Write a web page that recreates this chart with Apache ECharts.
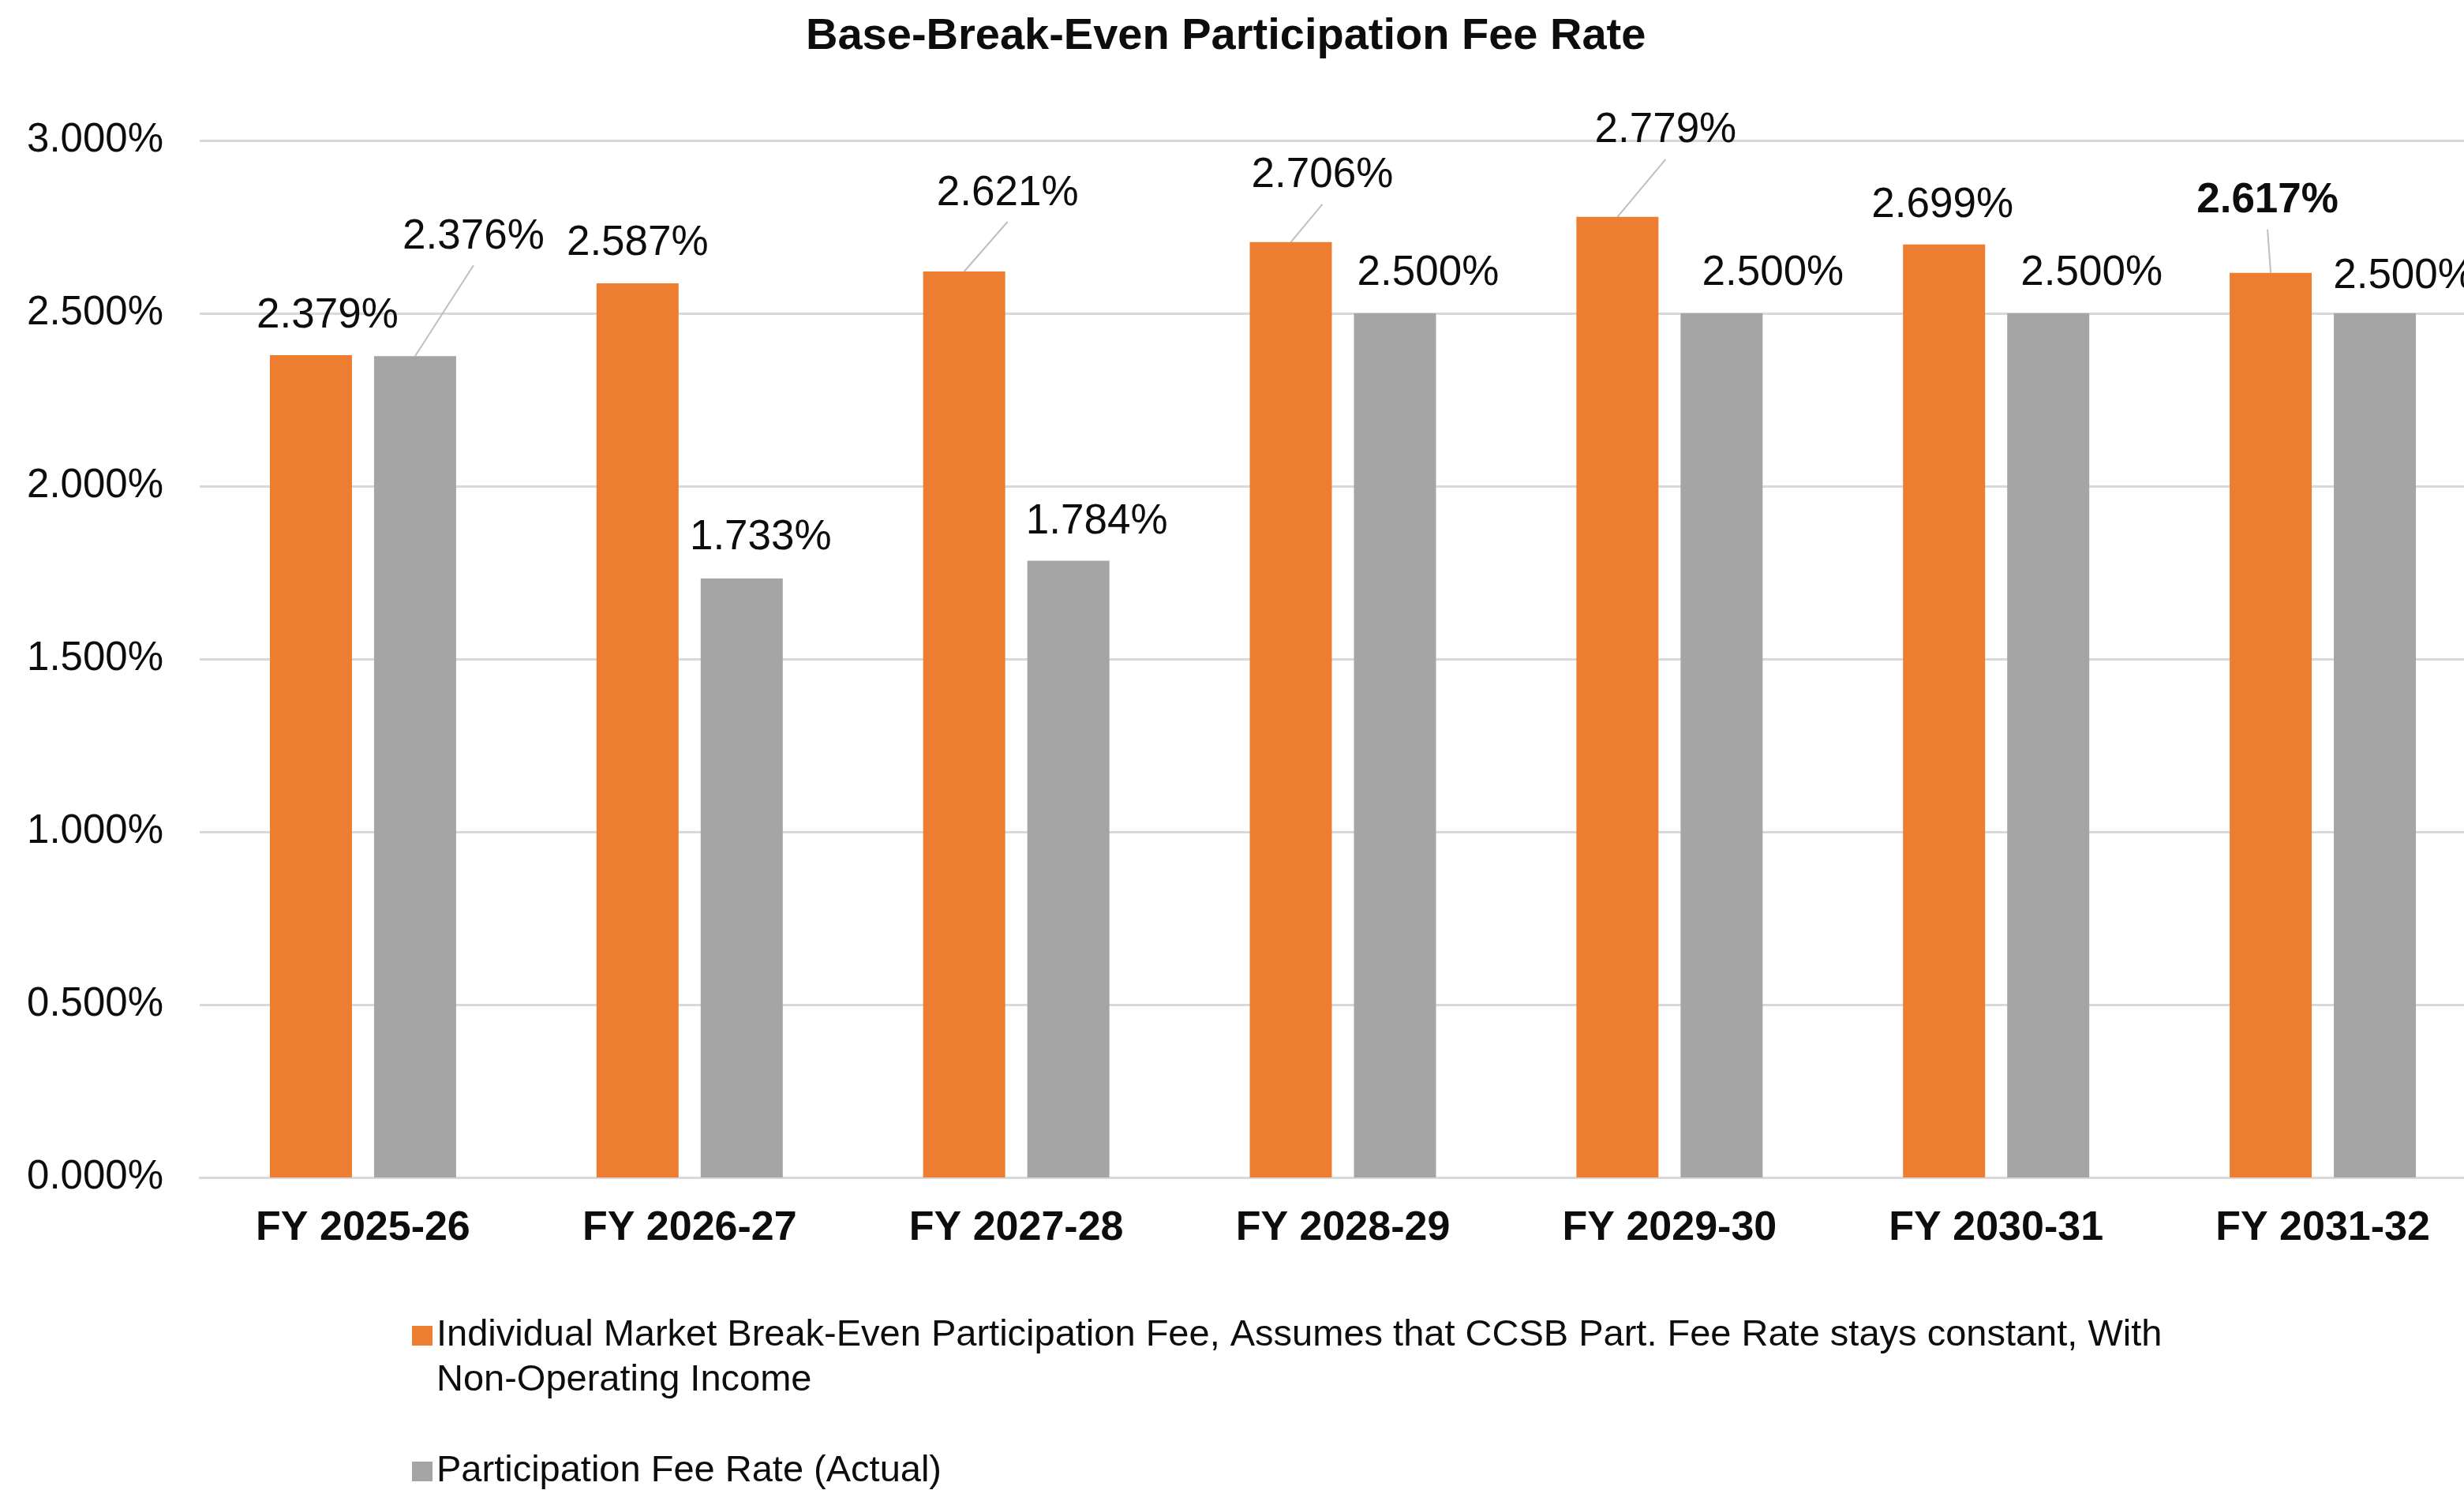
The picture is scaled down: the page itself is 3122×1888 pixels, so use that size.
<!DOCTYPE html>
<html>
<head>
<meta charset="utf-8">
<script src="https://cdn.jsdelivr.net/npm/echarts@6/dist/echarts.min.js"></script>
<style>
html,body{margin:0;padding:0;background:#fff;}
#chart{width:3122px;height:1888px;}
</style>
</head>
<body>
<div id="chart"></div>
<script>
// ---- data ----
const categories = ['FY 2025-26','FY 2026-27','FY 2027-28','FY 2028-29','FY 2029-30','FY 2030-31','FY 2031-32'];
const breakEvenValues = [2.379, 2.587, 2.621, 2.706, 2.779, 2.699, 2.617];
const actualValues = [2.376, 1.733, 1.784, 2.500, 2.500, 2.500, 2.500];
const seriesNames = [
  'Individual Market Break-Even Participation Fee, Assumes that CCSB Part. Fee Rate stays constant, With Non-Operating Income',
  'Participation Fee Rate (Actual)'
];
const yTicks = { min: 0, max: 3, interval: 0.5 };

// ---- label placement (moved labels, as in the source) ----
const labelOffsets = [
  [[21,-50],[0,-51],[55,-99],[40,-84],[61,-109],[-2,-49],[-4,-91]],
  [[74,-151],[24,-52],[36,-49],[42,-51],[65,-51],[55,-51],[37,-47]]
];
const leaderLines = [
  [false,false,true,true,true,false,true],
  [true,false,false,false,false,false,false]
];
const boldLabels = [
  [false,false,false,false,false,false,true],
  [false,false,false,false,false,false,false]
];

const FONT = '"Liberation Sans", Arial, sans-serif';
const colors = ['#ED7D31', '#A5A5A5'];
const BAR_W = 104, BAR_GAP = 28;
const barShift = [-(BAR_W + BAR_GAP) / 2, (BAR_W + BAR_GAP) / 2];

const allValues = [breakEvenValues, actualValues];

function buildData(values, s) {
  return values.map((v, i) => ({
    value: v,
    label: boldLabels[s][i] ? { fontWeight: 'bold' } : undefined
  }));
}

// leader lines: [categoryIndex, value, seriesIndex] taken from the value arrays
const leaderData = [];
allValues.forEach((vals, s) => vals.forEach((v, i) => {
  if (leaderLines[s][i]) leaderData.push([i, v, s]);
}));

const chart = echarts.init(document.getElementById('chart'), null, { renderer: 'canvas' });

const seriesList = allValues.map((vals, s) => ({
  name: seriesNames[s],
  type: 'bar',
  barWidth: BAR_W,
  barGap: (BAR_GAP / BAR_W * 100) + '%',
  itemStyle: { color: colors[s] },
  data: buildData(vals, s),
  label: {
    show: true,
    position: 'top',
    distance: 0,
    verticalAlign: 'middle',
    fontFamily: FONT,
    fontSize: 53,
    color: '#0d0d0d',
    formatter: p => p.value.toFixed(3) + '%'
  },
  labelLayout: function (params) {
    const o = labelOffsets[params.seriesIndex][params.dataIndex];
    return { dx: o[0], dy: o[1] };
  }
}));

seriesList.push({
  type: 'custom',
  name: 'leader',
  silent: true,
  z: 1,
  encode: { x: 0, y: 1 },
  data: leaderData,
  renderItem: function (params, api) {
    const cat = api.value(0), val = api.value(1), s = api.value(2);
    const top = api.coord([cat, val]);
    const x0 = top[0] + barShift[s];
    const o = labelOffsets[s][cat];
    return {
      type: 'line',
      shape: { x1: x0, y1: top[1], x2: x0 + o[0], y2: top[1] + o[1] + 36 },
      style: { stroke: '#BFBFBF', lineWidth: 2 }
    };
  }
});

chart.setOption({
  animation: false,
  backgroundColor: '#ffffff',
  title: {
    text: 'Base-Break-Even Participation Fee Rate',
    left: 1021,
    top: 19,
    padding: 0,
    textStyle: { fontFamily: FONT, fontSize: 56, fontWeight: 'bold', color: '#0d0d0d' }
  },
  grid: { left: 253, top: 178, width: 2897, height: 1314, containLabel: false, outerBoundsMode: 'none' },
  legend: {
    orient: 'vertical',
    left: 522,
    top: 1607,
    padding: 0,
    itemGap: 58,
    itemWidth: 26,
    itemHeight: 25,
    icon: 'rect',
    data: [seriesNames[0], seriesNames[1]],
    formatter: name => name.indexOf('With Non-Operating') >= 0
      ? '\n' + name.replace('With Non-Operating', 'With\nNon-Operating')
      : name,
    textStyle: { fontFamily: FONT, fontSize: 47, lineHeight: 57, color: '#0d0d0d' }
  },
  xAxis: {
    type: 'category',
    data: categories,
    axisTick: { show: false },
    axisLine: { lineStyle: { color: '#D9D9D9', width: 3 } },
    axisLabel: { fontFamily: FONT, fontSize: 52, fontWeight: 'bold', color: '#0d0d0d', margin: 39 }
  },
  yAxis: {
    type: 'value',
    min: yTicks.min,
    max: yTicks.max,
    interval: yTicks.interval,
    axisLine: { show: false },
    axisTick: { show: false },
    splitLine: { lineStyle: { color: '#D9D9D9', width: 3 } },
    axisLabel: {
      fontFamily: FONT, fontSize: 51, color: '#0d0d0d', margin: 46,
      padding: [4, 0, 0, 0],
      formatter: v => v.toFixed(3) + '%'
    }
  },
  series: seriesList
});
</script>
</body>
</html>
